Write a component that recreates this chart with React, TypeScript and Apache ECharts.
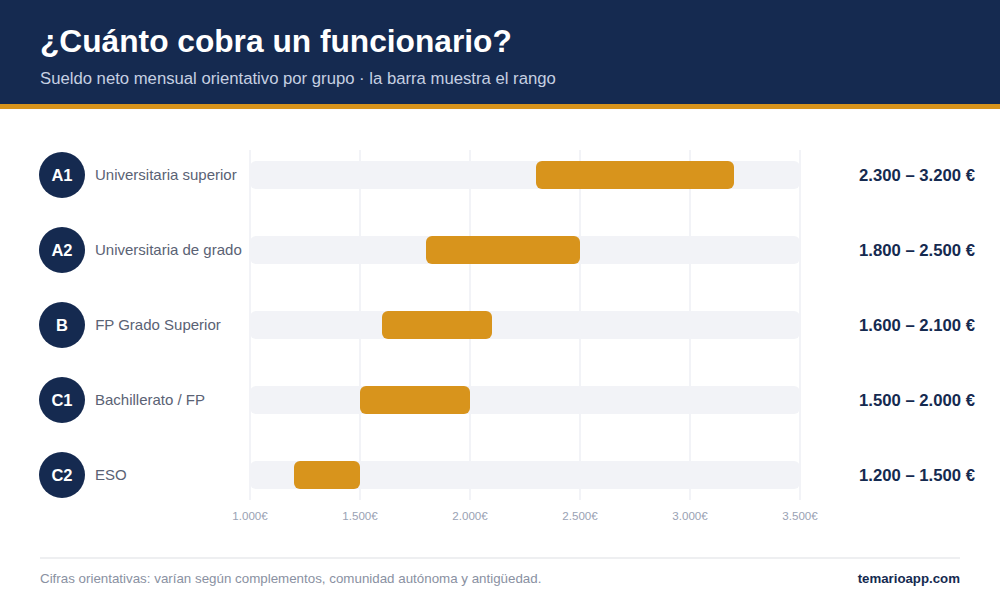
import React, { useEffect, useRef } from "react";
import * as echarts from "echarts";

const groups = ["A1", "A2", "B", "C1", "C2"];
const studies = ["Universitaria superior", "Universitaria de grado", "FP Grado Superior", "Bachillerato / FP", "ESO"];
const lows = [2300, 1800, 1600, 1500, 1200];
const highs = [3200, 2500, 2100, 2000, 1500];
const axisMin = 1000;
const axisMax = 3500;
const axisStep = 500;

const NAVY = "#152a50";
const GOLD = "#d8941c";
const TRACK = "#f2f3f7";
const FONT = "'Liberation Sans', Arial, sans-serif";

const euro = (v: number) => String(v).replace(/\B(?=(\d{3})+$)/g, ".");
const rangeLabels = lows.map((l, i) => `${euro(l)} – ${euro(highs[i])} €`);
const rowLabels = groups.map((g) => g);

export default function App() {
  const ref = useRef<HTMLDivElement>(null);
  useEffect(() => {
    document.body.style.margin = "0";
    const chart = echarts.init(ref.current!, null, { renderer: "svg" });
    chart.setOption({
      animation: false,
      backgroundColor: "#ffffff",
      grid: [
        { left: 250, top: 150, width: 550, height: 350 },
        { left: 250, top: 137.5, width: 550, height: 375 },
      ],
      xAxis: [
        {
          gridIndex: 0,
          type: "value",
          min: axisMin,
          max: axisMax,
          interval: axisStep,
          axisLine: { show: false },
          axisTick: { show: false },
          splitLine: { show: true, lineStyle: { color: TRACK, width: 2 } },
          axisLabel: {
            color: "#9aa2b4",
            fontSize: 11.6,
            fontFamily: FONT,
            margin: 9,
            formatter: (v: number) => `${euro(v)}€`,
          },
        },
        {
          gridIndex: 1,
          type: "value",
          min: axisMin,
          max: axisMax,
          interval: axisStep,
          axisLine: { show: false },
          axisTick: { show: false },
          splitLine: { show: false },
          axisLabel: { show: false },
        },
      ],
      yAxis: [
        { gridIndex: 0, type: "category", data: groups, show: false },
        {
          gridIndex: 1,
          type: "category",
          inverse: true,
          data: rowLabels,
          position: "left",
          axisLine: { show: false },
          axisTick: { show: false },
          axisLabel: {
            align: "left",
            margin: 211,
            fontFamily: FONT,
            formatter: (_: string, i: number) => `{badge|${groups[i]}}{name|${studies[i]}}`,
            rich: {
              badge: {
                width: 46,
                height: 46,
                lineHeight: 46,
                align: "center",
                backgroundColor: NAVY,
                borderRadius: 23,
                color: "#ffffff",
                fontSize: 16.5,
                fontWeight: "bold",
                fontFamily: FONT,
              },
              name: {
                color: "#5a6274",
                fontSize: 15,
                fontFamily: FONT,
                padding: [0, 0, 2, 10],
              },
            },
          },
        },
        {
          gridIndex: 1,
          type: "category",
          inverse: true,
          data: rangeLabels,
          position: "right",
          axisLine: { show: false },
          axisTick: { show: false },
          axisLabel: {
            align: "right",
            margin: 175,
            color: NAVY,
            fontSize: 16.7,
            fontWeight: "bold",
            fontFamily: FONT,
          },
        },
      ],
      series: [
        {
          type: "bar",
          xAxisIndex: 1,
          yAxisIndex: 1,
          barWidth: 28,
          barGap: "-100%",
          data: groups.map(() => axisMax),
          itemStyle: { color: TRACK, borderRadius: 6 },
          silent: true,
        },
        {
          type: "bar",
          xAxisIndex: 1,
          yAxisIndex: 1,
          stack: "range",
          barWidth: 28,
          data: lows,
          itemStyle: { color: "transparent" },
          silent: true,
        },
        {
          type: "bar",
          xAxisIndex: 1,
          yAxisIndex: 1,
          stack: "range",
          barWidth: 28,
          data: highs.map((h, i) => h - lows[i]),
          itemStyle: { color: GOLD, borderRadius: 6 },
        },
      ],
      graphic: [
        { type: "rect", shape: { x: 0, y: 0, width: 1000, height: 104 }, style: { fill: NAVY } },
        { type: "rect", shape: { x: 0, y: 104, width: 1000, height: 5 }, style: { fill: GOLD } },
        {
          type: "text",
          x: 40,
          y: 41,
          style: {
            text: "¿Cuánto cobra un funcionario?",
            fill: "#ffffff",
            font: `bold 31.7px ${FONT}`,
            textVerticalAlign: "middle",
          },
        },
        {
          type: "text",
          x: 40,
          y: 78.5,
          style: {
            text: "Sueldo neto mensual orientativo por grupo · la barra muestra el rango",
            fill: "#c6d0e2",
            font: `16.7px ${FONT}`,
            textVerticalAlign: "middle",
          },
        },
        { type: "rect", shape: { x: 40, y: 557, width: 920, height: 2 }, style: { fill: "#eeeff1" } },
        {
          type: "text",
          x: 40,
          y: 578.5,
          style: {
            text: "Cifras orientativas: varían según complementos, comunidad autónoma y antigüedad.",
            fill: "#8a91a2",
            font: `13.35px ${FONT}`,
            textVerticalAlign: "middle",
          },
        },
        {
          type: "text",
          x: 960,
          y: 578.5,
          style: {
            text: "temarioapp.com",
            fill: NAVY,
            font: `bold 13.25px ${FONT}`,
            textAlign: "right",
            textVerticalAlign: "middle",
          },
        },
      ],
    });
    return () => chart.dispose();
  }, []);
  return <div ref={ref} style={{ width: 1000, height: 610 }} />;
}
